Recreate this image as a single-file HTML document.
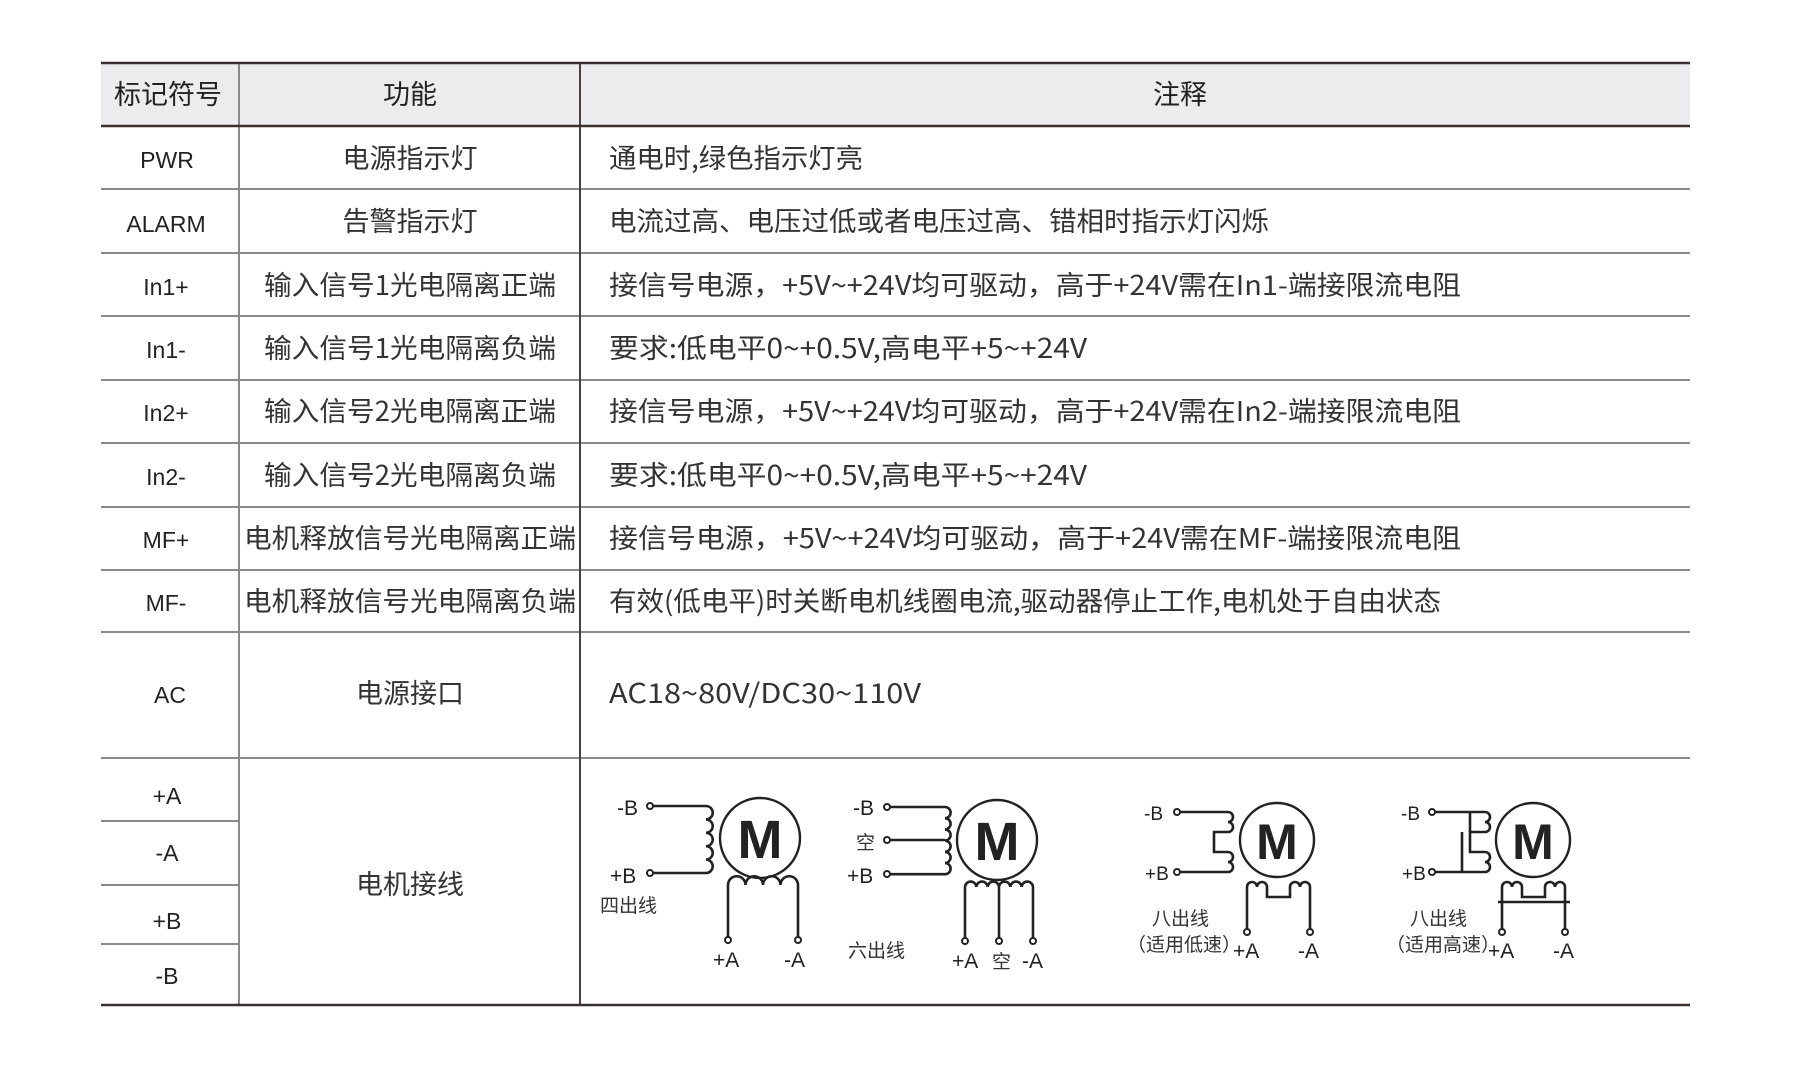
<!DOCTYPE html>
<html><head><meta charset="utf-8"><style>
html,body{margin:0;padding:0;background:#fff;}
svg{display:block;}
text{font-family:"Liberation Sans","Noto Sans CJK SC",sans-serif;fill:#2b2b2b;}
.c{font-family:"Noto Sans CJK SC","Liberation Sans",sans-serif;font-size:27px;fill:#333;}
.l{font-size:23px;fill:#222;}
.d{font-size:21px;fill:#222;}
.dc{font-family:"Noto Sans CJK SC",sans-serif;font-size:19px;fill:#333;}
.w{fill:none;stroke:#222;stroke-width:2.6;}
</style></head><body>
<svg width="1800" height="1067" viewBox="0 0 1800 1067">
<rect x="101" y="63" width="1589" height="63" fill="#ececee"/>
<g stroke="#8a8a8a" stroke-width="2">
<line x1="101" y1="189" x2="1690" y2="189"/>
<line x1="101" y1="253" x2="1690" y2="253"/>
<line x1="101" y1="316" x2="1690" y2="316"/>
<line x1="101" y1="380" x2="1690" y2="380"/>
<line x1="101" y1="443" x2="1690" y2="443"/>
<line x1="101" y1="507" x2="1690" y2="507"/>
<line x1="101" y1="570" x2="1690" y2="570"/>
<line x1="101" y1="632" x2="1690" y2="632"/>
<line x1="101" y1="758" x2="1690" y2="758"/>
<line x1="101" y1="821" x2="239" y2="821"/>
<line x1="101" y1="885" x2="239" y2="885"/>
<line x1="101" y1="944" x2="239" y2="944"/>
<line x1="239" y1="63" x2="239" y2="1005"/>
</g>
<line x1="580" y1="63" x2="580" y2="1005" stroke="#4a3e3e" stroke-width="2"/>
<g stroke="#3a3030" stroke-width="2.4">
<line x1="101" y1="63" x2="1690" y2="63"/>
<line x1="101" y1="126" x2="1690" y2="126"/>
<line x1="101" y1="1005" x2="1690" y2="1005"/>
</g>
<text class="c" x="168" y="104" text-anchor="middle" style="fill:#222">标记符号</text>
<text class="c" x="410" y="104" text-anchor="middle" style="fill:#222">功能</text>
<text class="c" x="1180" y="104" text-anchor="middle" style="fill:#222">注释</text>
<g text-anchor="middle">
<text class="l" x="167" y="168">PWR</text>
<text class="l" x="166" y="232">ALARM</text>
<text class="l" x="166" y="295">In1+</text>
<text class="l" x="166" y="358">In1-</text>
<text class="l" x="166" y="421">In2+</text>
<text class="l" x="166" y="485">In2-</text>
<text class="l" x="166" y="548">MF+</text>
<text class="l" x="166" y="611">MF-</text>
<text class="l" x="170" y="703">AC</text>
<text class="l" x="167" y="804">+A</text>
<text class="l" x="167" y="861">-A</text>
<text class="l" x="167" y="929">+B</text>
<text class="l" x="167" y="984">-B</text>
</g>
<g text-anchor="middle">
<text class="c" x="410" y="168">电源指示灯</text>
<text class="c" x="410" y="231">告警指示灯</text>
<text class="c" x="410" y="295" textLength="292" lengthAdjust="spacingAndGlyphs">输入信号1光电隔离正端</text>
<text class="c" x="410" y="358" textLength="292" lengthAdjust="spacingAndGlyphs">输入信号1光电隔离负端</text>
<text class="c" x="410" y="421" textLength="292" lengthAdjust="spacingAndGlyphs">输入信号2光电隔离正端</text>
<text class="c" x="410" y="485" textLength="292" lengthAdjust="spacingAndGlyphs">输入信号2光电隔离负端</text>
<text class="c" x="410" y="548" textLength="332" lengthAdjust="spacingAndGlyphs">电机释放信号光电隔离正端</text>
<text class="c" x="410" y="611" textLength="332" lengthAdjust="spacingAndGlyphs">电机释放信号光电隔离负端</text>
<text class="c" x="410" y="703">电源接口</text>
<text class="c" x="410" y="894">电机接线</text>
</g>
<text class="c" x="609" y="168" textLength="254" lengthAdjust="spacingAndGlyphs">通电时,绿色指示灯亮</text>
<text class="c" x="609" y="231" textLength="660" lengthAdjust="spacingAndGlyphs">电流过高、电压过低或者电压过高、错相时指示灯闪烁</text>
<text class="c" x="609" y="295" textLength="852" lengthAdjust="spacingAndGlyphs">接信号电源，+5V~+24V均可驱动，高于+24V需在In1-端接限流电阻</text>
<text class="c" x="609" y="358" textLength="478" lengthAdjust="spacingAndGlyphs">要求:低电平0~+0.5V,高电平+5~+24V</text>
<text class="c" x="609" y="421" textLength="852" lengthAdjust="spacingAndGlyphs">接信号电源，+5V~+24V均可驱动，高于+24V需在In2-端接限流电阻</text>
<text class="c" x="609" y="485" textLength="478" lengthAdjust="spacingAndGlyphs">要求:低电平0~+0.5V,高电平+5~+24V</text>
<text class="c" x="609" y="548" textLength="852" lengthAdjust="spacingAndGlyphs">接信号电源，+5V~+24V均可驱动，高于+24V需在MF-端接限流电阻</text>
<text class="c" x="609" y="611" textLength="832" lengthAdjust="spacingAndGlyphs">有效(低电平)时关断电机线圈电流,驱动器停止工作,电机处于自由状态</text>
<text class="c" x="609" y="703" textLength="312" lengthAdjust="spacingAndGlyphs">AC18~80V/DC30~110V</text>

<g>
<text class="d" x="617" y="815">-B</text>
<text class="d" x="610" y="883">+B</text>
<text class="dc" x="600" y="912">四出线</text>
<path class="w" d="M652 806 H706 a6.7 6.7 0 0 1 0 13.4 a6.7 6.7 0 0 1 0 13.4 a6.7 6.7 0 0 1 0 13.4 a6.7 6.7 0 0 1 0 13.4 a6.7 6.7 0 0 1 0 13.4 H652"/>
<circle cx="650" cy="806" r="3" fill="#fff" stroke="#222" stroke-width="2"/>
<circle cx="650" cy="873" r="3" fill="#fff" stroke="#222" stroke-width="2"/>
<circle cx="760" cy="838" r="40" fill="none" stroke="#222" stroke-width="2.4"/>
<text x="760" y="858" text-anchor="middle" style="font-size:54px;font-weight:bold;fill:#222">M</text>
<path class="w" d="M728 938 V885 a8.75 8.75 0 0 1 17.5 0 a8.75 8.75 0 0 1 17.5 0 a8.75 8.75 0 0 1 17.5 0 a8.75 8.75 0 0 1 17.5 0 V938"/>
<circle cx="728" cy="940" r="3" fill="#fff" stroke="#222" stroke-width="2"/>
<circle cx="798" cy="940" r="3" fill="#fff" stroke="#222" stroke-width="2"/>
<text class="d" x="713" y="967">+A</text>
<text class="d" x="784" y="967">-A</text>
</g>

<g>
<text class="d" x="853" y="815">-B</text>
<text class="dc" x="856" y="849">空</text>
<text class="d" x="847" y="883">+B</text>
<text class="dc" x="848" y="957">六出线</text>
<path class="w" d="M889 807 H945 a5.6 5.6 0 0 1 0 11.2 a5.6 5.6 0 0 1 0 11.2 a5.6 5.6 0 0 1 0 11.2 a5.6 5.6 0 0 1 0 11.2 a5.6 5.6 0 0 1 0 11.2 a5.6 5.6 0 0 1 0 11.2 H889"/>
<path class="w" d="M889 840 H945"/>
<circle cx="887" cy="807" r="3" fill="#fff" stroke="#222" stroke-width="2"/>
<circle cx="887" cy="840" r="3" fill="#fff" stroke="#222" stroke-width="2"/>
<circle cx="887" cy="874" r="3" fill="#fff" stroke="#222" stroke-width="2"/>
<circle cx="997" cy="840" r="40" fill="none" stroke="#222" stroke-width="2.4"/>
<text x="997" y="860" text-anchor="middle" style="font-size:54px;font-weight:bold;fill:#222">M</text>
<path class="w" d="M965 940 V887 a5.67 5.67 0 0 1 11.33 0 a5.67 5.67 0 0 1 11.33 0 a5.67 5.67 0 0 1 11.33 0 a5.67 5.67 0 0 1 11.33 0 a5.67 5.67 0 0 1 11.33 0 a5.67 5.67 0 0 1 11.33 0 V940"/>
<path class="w" d="M999 887 V940"/>
<circle cx="965" cy="941" r="3" fill="#fff" stroke="#222" stroke-width="2"/>
<circle cx="999" cy="941" r="3" fill="#fff" stroke="#222" stroke-width="2"/>
<circle cx="1033" cy="941" r="3" fill="#fff" stroke="#222" stroke-width="2"/>
<text class="d" x="952" y="968">+A</text>
<text class="dc" x="992" y="968">空</text>
<text class="d" x="1022" y="968">-A</text>
</g>

<g>
<text class="d" x="1144" y="820" style="font-size:19px">-B</text>
<text class="d" x="1145" y="880" style="font-size:19px">+B</text>
<text class="dc" x="1152" y="925">八出线</text>
<text class="dc" x="1127" y="951">（适用低速）</text>
<path class="w" d="M1179 812 H1228 a5 5 0 0 1 0 10 a5 5 0 0 1 0 10 H1214 V852 H1228 a5 5 0 0 1 0 10 a5 5 0 0 1 0 10 H1179"/>
<circle cx="1177" cy="812" r="3" fill="#fff" stroke="#222" stroke-width="2"/>
<circle cx="1177" cy="872" r="3" fill="#fff" stroke="#222" stroke-width="2"/>
<circle cx="1277" cy="840" r="37" fill="none" stroke="#222" stroke-width="2.4"/>
<text x="1277" y="859" text-anchor="middle" style="font-size:50px;font-weight:bold;fill:#222">M</text>
<path class="w" d="M1247 930 V887 a5 5 0 0 1 10 0 a5 5 0 0 1 10 0 V897 H1290 V887 a5 5 0 0 1 10 0 a5 5 0 0 1 10 0 V930"/>
<circle cx="1247" cy="932" r="3" fill="#fff" stroke="#222" stroke-width="2"/>
<circle cx="1310" cy="932" r="3" fill="#fff" stroke="#222" stroke-width="2"/>
<text class="d" x="1233" y="958">+A</text>
<text class="d" x="1298" y="958">-A</text>
</g>

<g>
<text class="d" x="1401" y="820" style="font-size:19px">-B</text>
<text class="d" x="1402" y="880" style="font-size:19px">+B</text>
<text class="dc" x="1410" y="925">八出线</text>
<text class="dc" x="1386" y="951">（适用高速）</text>
<path class="w" d="M1434 812 H1485 a5 5 0 0 1 0 10 a5 5 0 0 1 0 10 H1470 V852 H1485 a5 5 0 0 1 0 10 a5 5 0 0 1 0 10 H1434"/>
<path class="w" d="M1470 812 V832 M1462 832 V872"/>
<circle cx="1432" cy="812" r="3" fill="#fff" stroke="#222" stroke-width="2"/>
<circle cx="1432" cy="872" r="3" fill="#fff" stroke="#222" stroke-width="2"/>
<circle cx="1533" cy="840" r="37" fill="none" stroke="#222" stroke-width="2.4"/>
<text x="1533" y="859" text-anchor="middle" style="font-size:50px;font-weight:bold;fill:#222">M</text>
<path class="w" d="M1502 930 V887 a5 5 0 0 1 10 0 a5 5 0 0 1 10 0 V897 H1545 V887 a5 5 0 0 1 10 0 a5 5 0 0 1 10 0 V930"/>
<path class="w" d="M1498 902 H1570"/>
<circle cx="1502" cy="932" r="3" fill="#fff" stroke="#222" stroke-width="2"/>
<circle cx="1565" cy="932" r="3" fill="#fff" stroke="#222" stroke-width="2"/>
<text class="d" x="1488" y="958">+A</text>
<text class="d" x="1553" y="958">-A</text>
</g>
</svg>
</body></html>
